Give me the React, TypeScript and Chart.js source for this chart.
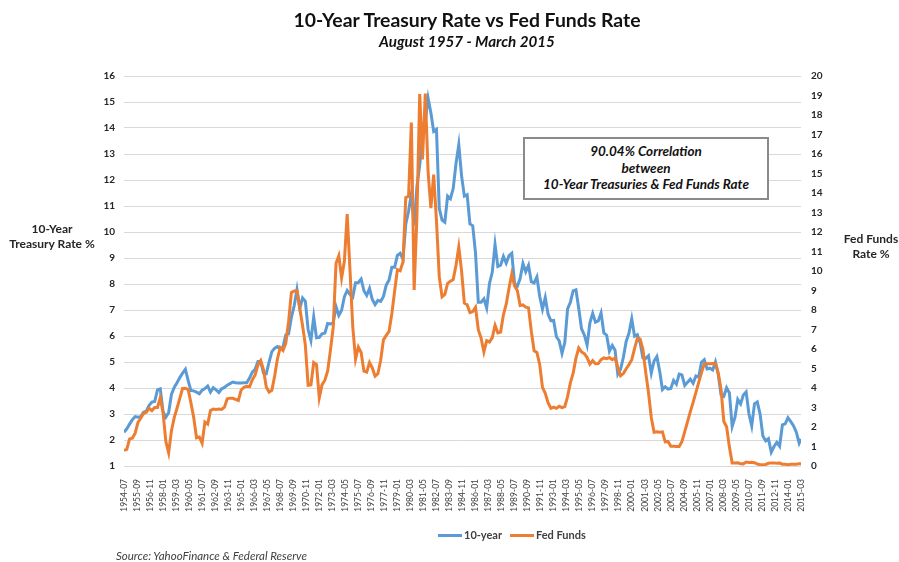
import React, { useEffect, useRef } from "react";
import { Chart, registerables } from "chart.js";

Chart.register(...registerables);

// Quarterly readings (Jan/Apr/Jul/Oct) starting 1954-07, ending 2015-01
const STEP_MONTHS = 3;
const TICK_STEP = 14;
const TOTAL_MONTHS = 728; // 1954-07 .. 2015-03

const tickLabels = [
  "1954-07", "1955-09", "1956-11", "1958-01", "1959-03", "1960-05", "1961-07", "1962-09", "1963-11",
  "1965-01", "1966-03", "1967-05", "1968-07", "1969-09", "1970-11", "1972-01", "1973-03", "1974-05",
  "1975-07", "1976-09", "1977-11", "1979-01", "1980-03", "1981-05", "1982-07", "1983-09", "1984-11",
  "1986-01", "1987-03", "1988-05", "1989-07", "1990-09", "1991-11", "1993-01", "1994-03", "1995-05",
  "1996-07", "1997-09", "1998-11", "2000-01", "2001-03", "2002-05", "2003-07", "2004-09", "2005-11",
  "2007-01", "2008-03", "2009-05", "2010-07", "2011-09", "2012-11", "2014-01", "2015-03",
];

const tenYear = [
  2.30, 2.43,
  2.61, 2.78, 2.90, 2.88,
  2.90, 3.07, 3.11, 3.33,
  3.46, 3.48, 3.93, 3.97,
  3.09, 2.88, 3.05, 3.75,
  4.02, 4.20, 4.40, 4.57,
  4.72, 4.28, 3.90, 3.89,
  3.84, 3.78, 3.92, 3.98,
  4.08, 3.84, 4.01, 3.93,
  3.83, 3.97, 4.02, 4.11,
  4.17, 4.23, 4.20, 4.19,
  4.19, 4.20, 4.20, 4.38,
  4.61, 4.72, 5.02, 5.01,
  4.58, 4.55, 5.00, 5.40,
  5.53, 5.59, 5.50, 5.58,
  6.04, 6.08, 6.72, 7.16,
  7.79, 7.06, 7.46, 7.33,
  6.24, 5.83, 6.73, 5.93,
  5.95, 6.08, 6.11, 6.48,
  6.46, 6.51, 7.13, 6.79,
  6.99, 7.51, 7.75, 7.60,
  7.50, 8.05, 8.06, 8.19,
  7.74, 7.56, 7.83, 7.41,
  7.21, 7.37, 7.33, 7.52,
  7.96, 8.15, 8.64, 8.64,
  9.10, 9.18, 8.95, 10.30,
  10.80, 11.47, 10.25, 11.75,
  12.57, 13.68, 14.28, 15.15,
  14.59, 13.87, 13.95, 10.91,
  10.46, 10.38, 11.38, 11.28,
  11.67, 12.63, 13.36, 12.16,
  11.38, 11.43, 10.31, 10.24,
  9.19, 7.30, 7.30, 7.43,
  7.08, 8.02, 8.45, 9.52,
  8.67, 8.72, 9.06, 8.80,
  9.09, 9.18, 8.02, 7.92,
  8.21, 8.79, 8.47, 8.72,
  8.09, 8.04, 8.27, 7.53,
  7.03, 7.48, 6.84, 6.59,
  6.60, 5.97, 5.81, 5.33,
  5.75, 7.04, 7.30, 7.74,
  7.78, 7.06, 6.28, 6.04,
  5.65, 6.51, 6.87, 6.53,
  6.58, 6.89, 6.12, 6.03,
  5.42, 5.64, 5.46, 4.53,
  4.72, 5.18, 5.79, 6.11,
  6.66, 5.99, 6.05, 5.74,
  5.16, 5.14, 5.24, 4.57,
  5.04, 5.21, 4.65, 3.94,
  4.05, 3.96, 3.98, 4.29,
  4.15, 4.53, 4.50, 4.10,
  4.22, 4.34, 4.18, 4.46,
  4.42, 4.99, 5.09, 4.73,
  4.76, 4.69, 5.00, 4.53,
  3.74, 3.68, 4.01, 3.81,
  2.52, 2.87, 3.56, 3.39,
  3.73, 3.85, 3.01, 2.54,
  3.39, 3.46, 3.00, 2.15,
  1.97, 2.05, 1.53, 1.75,
  1.91, 1.76, 2.58, 2.62,
  2.86, 2.71, 2.54, 2.30,
  1.88,
];
const tenYearMar2015 = 2.04;

const fedFunds = [
  0.80, 0.85,
  1.39, 1.43, 1.68, 2.24,
  2.45, 2.69, 2.75, 2.96,
  2.84, 3.00, 3.00, 3.50,
  2.72, 1.26, 0.68, 1.80,
  2.48, 2.96, 3.47, 3.98,
  3.99, 3.92, 3.23, 2.47,
  1.45, 1.49, 1.17, 2.26,
  2.15, 2.85, 2.92, 2.90,
  2.92, 2.90, 3.02, 3.45,
  3.48, 3.47, 3.42, 3.36,
  3.90, 4.04, 4.09, 4.07,
  4.42, 4.67, 5.17, 5.40,
  4.94, 4.05, 3.79, 3.88,
  4.61, 5.50, 6.07, 5.92,
  6.30, 7.41, 8.90, 8.97,
  8.98, 8.10, 7.20, 6.20,
  4.14, 4.16, 5.31, 5.20,
  3.50, 4.17, 4.40, 4.87,
  5.94, 7.12, 10.40, 10.78,
  9.65, 10.51, 12.92, 10.06,
  7.13, 5.49, 6.10, 5.82,
  4.87, 4.82, 5.31, 5.03,
  4.61, 4.73, 5.42, 6.47,
  6.70, 6.90, 7.81, 8.96,
  10.07, 10.01, 10.47, 13.77,
  13.82, 17.61, 9.03, 12.81,
  19.08, 15.72, 19.10, 15.08,
  13.22, 14.94, 12.59, 9.71,
  8.68, 8.80, 9.37, 9.48,
  9.56, 10.29, 11.23, 9.99,
  8.35, 8.27, 7.87, 7.92,
  8.14, 6.99, 6.56, 5.85,
  6.43, 6.36, 6.58, 7.22,
  6.83, 6.87, 7.75, 8.30,
  9.12, 9.84, 9.24, 8.99,
  8.23, 8.26, 8.15, 8.11,
  6.91, 5.91, 5.82, 5.21,
  4.03, 3.73, 3.25, 2.96,
  3.02, 2.96, 3.06, 2.99,
  3.05, 3.56, 4.26, 4.76,
  5.53, 6.05, 5.85, 5.76,
  5.56, 5.22, 5.40, 5.24,
  5.25, 5.45, 5.54, 5.50,
  5.56, 5.45, 5.54, 5.07,
  4.63, 4.74, 4.99, 5.20,
  5.45, 6.02, 6.54, 6.51,
  5.98, 4.80, 3.77, 2.49,
  1.73, 1.75, 1.73, 1.75,
  1.24, 1.26, 1.01, 1.01,
  1.00, 1.00, 1.26, 1.76,
  2.28, 2.79, 3.26, 3.78,
  4.29, 4.79, 5.24, 5.25,
  5.25, 5.26, 5.26, 4.76,
  3.94, 2.28, 2.01, 0.97,
  0.15, 0.15, 0.16, 0.12,
  0.11, 0.20, 0.18, 0.19,
  0.17, 0.10, 0.07, 0.07,
  0.08, 0.14, 0.16, 0.16,
  0.14, 0.15, 0.09, 0.09,
  0.07, 0.09, 0.09, 0.09,
  0.11,
];
const fedFundsMar2015 = 0.11;

const FONT = "Lato, 'Open Sans', sans-serif";

function toPoints(values: number[], last: number) {
  const pts = values.map((y, i) => ({ x: i * STEP_MONTHS, y }));
  pts.push({ x: TOTAL_MONTHS, y: last });
  return pts;
}

export default function App() {
  const ref = useRef<HTMLCanvasElement>(null);

  useEffect(() => {
    document.body.style.margin = "0";
    const chart = new Chart(ref.current!, {
      type: "line",
      data: {
        datasets: [
          {
            label: "10-year",
            data: toPoints(tenYear, tenYearMar2015),
            yAxisID: "y",
            borderColor: "#5B9BD5",
            backgroundColor: "#5B9BD5",
            borderWidth: 3,
            pointRadius: 0,
            tension: 0,
            order: 2,
          },
          {
            label: "Fed Funds",
            data: toPoints(fedFunds, fedFundsMar2015),
            yAxisID: "y1",
            borderColor: "#ED7D31",
            backgroundColor: "#ED7D31",
            borderWidth: 3,
            pointRadius: 0,
            tension: 0,
            order: 1,
          },
        ],
      },
      options: {
        responsive: false,
        animation: false,
        layout: { padding: { top: 76, left: 0, right: 0, bottom: 0 } },
        plugins: {
          legend: { display: false },
          tooltip: { enabled: false },
          title: { display: false },
        },
        scales: {
          x: {
            type: "linear",
            min: 0,
            max: TOTAL_MONTHS,
            grid: { display: false },
            border: { display: false },
            ticks: {
              stepSize: TICK_STEP,
              autoSkip: false,
              minRotation: 90,
              maxRotation: 90,
              padding: 5,
              color: "#404040",
              font: { family: FONT, size: 8.5 },
              callback: (v: any) => tickLabels[Math.round(Number(v) / TICK_STEP)] ?? "",
            },
            afterFit: (s: any) => {
              s.height = 96;
            },
          },
          y: {
            position: "left",
            min: 1,
            max: 16,
            grid: { color: "#d9d9d9", drawTicks: false, lineWidth: 1 },
            border: { display: false },
            ticks: {
              stepSize: 1,
              padding: 9,
              color: "#262626",
              font: { family: FONT, size: 10, weight: "bold" },
            },
            afterFit: (s: any) => {
              s.width = 124;
            },
          },
          y1: {
            position: "right",
            min: 0,
            max: 20,
            grid: { display: false, drawTicks: false },
            border: { display: false },
            ticks: {
              stepSize: 1,
              padding: 10,
              color: "#262626",
              font: { family: FONT, size: 10, weight: "bold" },
            },
            afterFit: (s: any) => {
              s.width = 98;
            },
          },
        },
      },
    });
    return () => chart.destroy();
  }, []);

  const abs = (o: React.CSSProperties): React.CSSProperties => ({
    position: "absolute",
    whiteSpace: "nowrap",
    fontFamily: FONT,
    ...o,
  });

  return (
    <div style={{ position: "absolute", left: 0, top: 0, width: 899, height: 562, background: "#fff", overflow: "hidden" }}>
      <canvas ref={ref} width={899} height={562} style={{ position: "absolute", left: 0, top: 0 }} />
      <div style={abs({ left: 467, top: 10, transform: "translateX(-50%)", fontSize: 19.4, lineHeight: "19px", fontWeight: 700, color: "#111" })}>
        10-Year Treasury Rate vs Fed Funds Rate
      </div>
      <div style={abs({ left: 467, top: 34, transform: "translateX(-50%)", fontSize: 15.2, lineHeight: "15px", fontWeight: 700, fontStyle: "italic", color: "#111" })}>
        August 1957 - March 2015
      </div>
      <div style={abs({ left: 52, top: 221, transform: "translateX(-50%)", fontSize: 12, lineHeight: "15px", fontWeight: 700, color: "#262626", textAlign: "center" })}>
        10-Year
        <br />
        Treasury Rate %
      </div>
      <div style={abs({ left: 871, top: 231, transform: "translateX(-50%)", fontSize: 12, lineHeight: "15px", fontWeight: 700, color: "#262626", textAlign: "center" })}>
        Fed Funds
        <br />
        Rate %
      </div>
      <div
        style={abs({
          left: 523,
          top: 137,
          width: 246,
          height: 63,
          boxSizing: "border-box",
          border: "2px solid #8a8a8a",
          background: "#fff",
          textAlign: "center",
          fontSize: 13.5,
          lineHeight: "16.5px",
          fontWeight: 700,
          fontStyle: "italic",
          color: "#111",
          paddingTop: 4,
        })}
      >
        90.04% Correlation
        <br />
        between
        <br />
        10-Year Treasuries &amp; Fed Funds Rate
      </div>
      <div style={abs({ left: 438, top: 533.5, width: 24, height: 3, background: "#5B9BD5" })} />
      <div style={abs({ left: 464, top: 528, fontSize: 11, lineHeight: "13px", fontWeight: 700, color: "#404040" })}>10-year</div>
      <div style={abs({ left: 510, top: 533.5, width: 24, height: 3, background: "#ED7D31" })} />
      <div style={abs({ left: 536, top: 528, fontSize: 11, lineHeight: "13px", fontWeight: 700, color: "#404040" })}>Fed Funds</div>
      <div style={abs({ left: 116, top: 549, fontSize: 11.5, lineHeight: "13px", fontStyle: "italic", color: "#404040" })}>
        Source: YahooFinance &amp; Federal Reserve
      </div>
    </div>
  );
}
